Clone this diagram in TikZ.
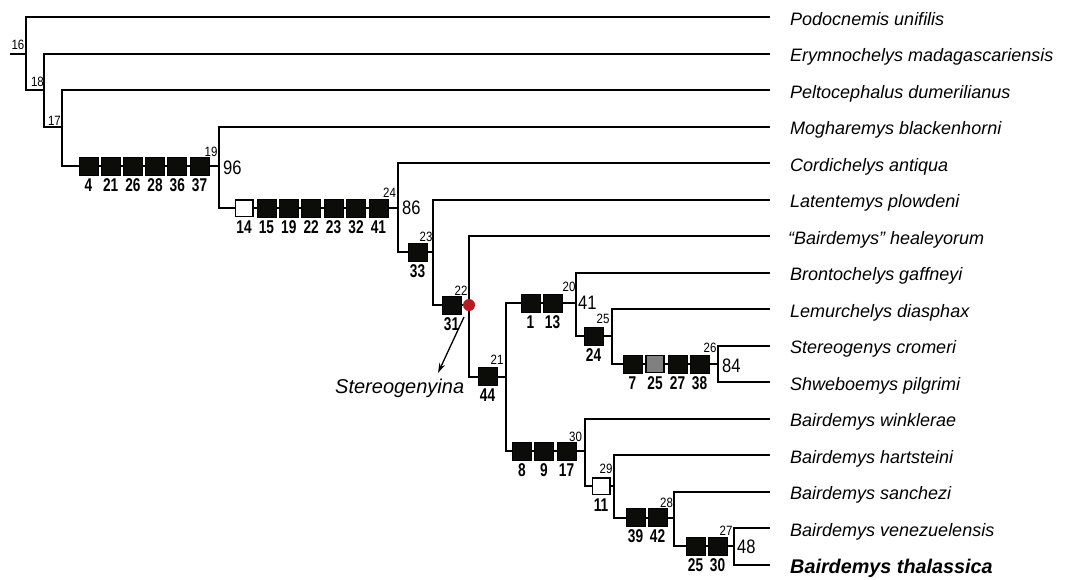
\documentclass[tikz,border=0pt]{standalone}
\usepackage{fontspec}
\setmainfont{Liberation Sans}
\newfontfamily\narrowfont[FakeStretch=0.85]{Liberation Sans}
\newfontfamily\boxfont[FakeStretch=0.74]{Liberation Sans}
\usetikzlibrary{arrows.meta}
\definecolor{nodered}{RGB}{185,25,35}
\definecolor{boxblack}{RGB}{12,12,8}
\definecolor{boxgrey}{RGB}{128,128,128}
\tikzset{
  branch/.style={line width=2pt, draw=black},
  chr/.style={draw=black, fill=boxblack, line width=0.8pt, minimum width=19pt, minimum height=18pt, inner sep=0pt},
  chrw/.style={chr, fill=white, line width=1.5pt, minimum width=17.5pt, minimum height=16.5pt},
  chrg/.style={chr, fill=boxgrey, line width=1.3pt, minimum width=18pt, minimum height=17pt},
  blab/.style={font=\boxfont\bfseries\fontsize{18.5}{18.5}\selectfont, inner sep=0pt, anchor=base},
  nlab/.style={font=\narrowfont\fontsize{13.5}{13.5}\selectfont, inner sep=0pt},
  supp/.style={font=\narrowfont\fontsize{19.5}{19.5}\selectfont, inner sep=0pt, anchor=west},
  taxon/.style={font=\itshape\fontsize{18}{18}\selectfont, inner sep=0pt, anchor=base west},
  reddot/.style={circle, fill=nodered, minimum size=12pt, inner sep=0pt},
  arrowline/.style={line width=1.3pt, -{Stealth[length=10pt,width=6pt]}}
}
\newcommand{\charbox}[4]{%
  \node[#1] (#2) at (#3) {};
  \node[blab] (#2l) at ([yshift=-25pt]#2.center) {#4};}
\begin{document}
\begin{tikzpicture}[x=1pt,y=-1pt]
\fill[white] (0,0) rectangle (1070,579);
\useasboundingbox (0,0) rectangle (1070,579);

% tips
\coordinate (t0) at (770,17);
\coordinate (t1) at (770,53.5);
\coordinate (t2) at (770,90);
\coordinate (t3) at (770,126.6);
\coordinate (t4) at (770,163.1);
\coordinate (t5) at (770,199.7);
\coordinate (t6) at (770,236.2);
\coordinate (t7) at (770,272.7);
\coordinate (t8) at (770,309.2);
\coordinate (t9) at (770,345.8);
\coordinate (t10) at (770,382.3);
\coordinate (t11) at (770,418.8);
\coordinate (t12) at (770,455.4);
\coordinate (t13) at (770,491.9);
\coordinate (t14) at (770,528.4);
\coordinate (t15) at (770,565);

% internal nodes
\coordinate (root) at (10,53.5);
\coordinate (n16) at (26,53.5);
\coordinate (n18) at (44,90);
\coordinate (n17) at (62,126.6);
\coordinate (n19) at (219,166);
\coordinate (n24) at (398,208);
\coordinate (n23) at (433,252);
\coordinate (n22) at (469,305);
\coordinate (n21) at (505.5,376.5);
\coordinate (n20) at (576,303);
\coordinate (n25) at (612,336);
\coordinate (n26) at (718,364);
\coordinate (n30) at (585,451);
\coordinate (n29) at (614,486);
\coordinate (n28) at (674,517.5);
\coordinate (n27) at (734,546);

% branches
\draw[branch] (root) -- (n16);
\draw[branch] (n16) |- (t0);
\draw[branch] (n16) |- (n18);
\draw[branch] (n18) |- (t1);
\draw[branch] (n18) |- (n17);
\draw[branch] (n17) |- (t2);
\draw[branch] (n17) |- (n19);
\draw[branch] (n19) |- (t3);
\draw[branch] (n19) |- (n24);
\draw[branch] (n24) |- (t4);
\draw[branch] (n24) |- (n23);
\draw[branch] (n23) |- (t5);
\draw[branch] (n23) |- (n22);
\draw[branch] (n22) |- (t6);
\draw[branch] (n22) |- (n21);
\draw[branch] (n21) |- (n20);
\draw[branch] (n21) |- (n30);
\draw[branch] (n20) |- (t7);
\draw[branch] (n20) |- (n25);
\draw[branch] (n25) |- (t8);
\draw[branch] (n25) |- (n26);
\draw[branch] (n26) |- (t9);
\draw[branch] (n26) |- (t10);
\draw[branch] (n30) |- (t11);
\draw[branch] (n30) |- (n29);
\draw[branch] (n29) |- (t12);
\draw[branch] (n29) |- (n28);
\draw[branch] (n28) |- (t13);
\draw[branch] (n28) |- (n27);
\draw[branch] (n27) |- (t14);
\draw[branch] (n27) |- (t15);

% character boxes
\charbox{chr}{c19a}{88.5,166}{4}
\charbox{chr}{c19b}{110.7,166}{21}
\charbox{chr}{c19c}{132.9,166}{26}
\charbox{chr}{c19d}{155.1,166}{28}
\charbox{chr}{c19e}{177.3,166}{36}
\charbox{chr}{c19f}{199.5,166}{37}

\charbox{chrw}{c24a}{244,208}{14}
\charbox{chr}{c24b}{266.4,208}{15}
\charbox{chr}{c24c}{288.8,208}{19}
\charbox{chr}{c24d}{311.2,208}{22}
\charbox{chr}{c24e}{333.6,208}{23}
\charbox{chr}{c24f}{356,208}{32}
\charbox{chr}{c24g}{378.4,208}{41}

\charbox{chr}{c23}{417.5,252}{33}
\charbox{chr}{c22}{451.5,305}{31}
\charbox{chr}{c21}{487.5,376.5}{44}

\charbox{chr}{c20a}{530.5,303}{1}
\charbox{chr}{c20b}{552.5,303}{13}
\charbox{chr}{c25}{593.5,336}{24}

\charbox{chr}{c26a}{632.5,364}{7}
\charbox{chrg}{c26b}{655,364}{25}
\charbox{chr}{c26c}{677.5,364}{27}
\charbox{chr}{c26d}{699.5,364}{38}

\charbox{chr}{c30a}{522,451}{8}
\charbox{chr}{c30b}{544,451}{9}
\charbox{chr}{c30c}{566.5,451}{17}

\charbox{chrw}{c29}{601,486}{11}
\charbox{chr}{c28a}{635.5,517.5}{39}
\charbox{chr}{c28b}{657.5,517.5}{42}
\charbox{chr}{c27a}{695.5,546}{25}
\charbox{chr}{c27b}{717.5,546}{30}

% node numbers
\node[nlab] (l16) at (18,45) {16};
\node[nlab] (l18) at (37.5,82) {18};
\node[nlab] (l17) at (54.5,121) {17};
\node[nlab] (l19) at (211,152) {19};
\node[nlab] (l24) at (389.5,193) {24};
\node[nlab] (l23) at (426,237) {23};
\node[nlab] (l22) at (461,291) {22};
\node[nlab] (l21) at (497,360) {21};
\node[nlab] (l20) at (569,287) {20};
\node[nlab] (l25) at (603,319) {25};
\node[nlab] (l26) at (710,348) {26};
\node[nlab] (l30) at (575.5,437) {30};
\node[nlab] (l29) at (606,469) {29};
\node[nlab] (l28) at (666.5,503) {28};
\node[nlab] (l27) at (726,531) {27};

% support values
\node[supp] (s96) at (223,168) {96};
\node[supp] (s86) at (402,208) {86};
\node[supp] (s41) at (578,303) {41};
\node[supp] (s84) at (722,366) {84};
\node[supp] (s48) at (737,547) {48};

% Stereogenyina
\node[reddot] (dot22) at (n22) {};
\coordinate (arS) at (464,317);
\coordinate (arE) at (438,373);
\draw[arrowline] (arS) -- (arE);
\node[font=\itshape\fontsize{20}{20}\selectfont, inner sep=0pt, anchor=base west] (stereo) at (335,393) {Stereogenyina};

% taxa
\node[taxon] (x0) at (790,25) {Podocnemis unifilis};
\node[taxon] (x1) at (790,61.5) {Erymnochelys madagascariensis};
\node[taxon] (x2) at (790,98) {Peltocephalus dumerilianus};
\node[taxon] (x3) at (790,134.6) {Mogharemys blackenhorni};
\node[taxon] (x4) at (790,171.1) {Cordichelys antiqua};
\node[taxon] (x5) at (790,207.7) {Latentemys plowdeni};
\node[taxon] (x6) at (788,244.2) {“Bairdemys” healeyorum};
\node[taxon] (x7) at (790,280.7) {Brontochelys gaffneyi};
\node[taxon] (x8) at (790,317.2) {Lemurchelys diasphax};
\node[taxon] (x9) at (790,353.8) {Stereogenys cromeri};
\node[taxon] (x10) at (790,390.3) {Shweboemys pilgrimi};
\node[taxon] (x11) at (790,426.8) {Bairdemys winklerae};
\node[taxon] (x12) at (790,463.4) {Bairdemys hartsteini};
\node[taxon] (x13) at (790,499.9) {Bairdemys sanchezi};
\node[taxon] (x14) at (790,536.4) {Bairdemys venezuelensis};
\node[taxon, font=\bfseries\itshape\fontsize{19.8}{19.8}\selectfont] (x15) at (790,573) {Bairdemys thalassica};
\end{tikzpicture}
\end{document}
